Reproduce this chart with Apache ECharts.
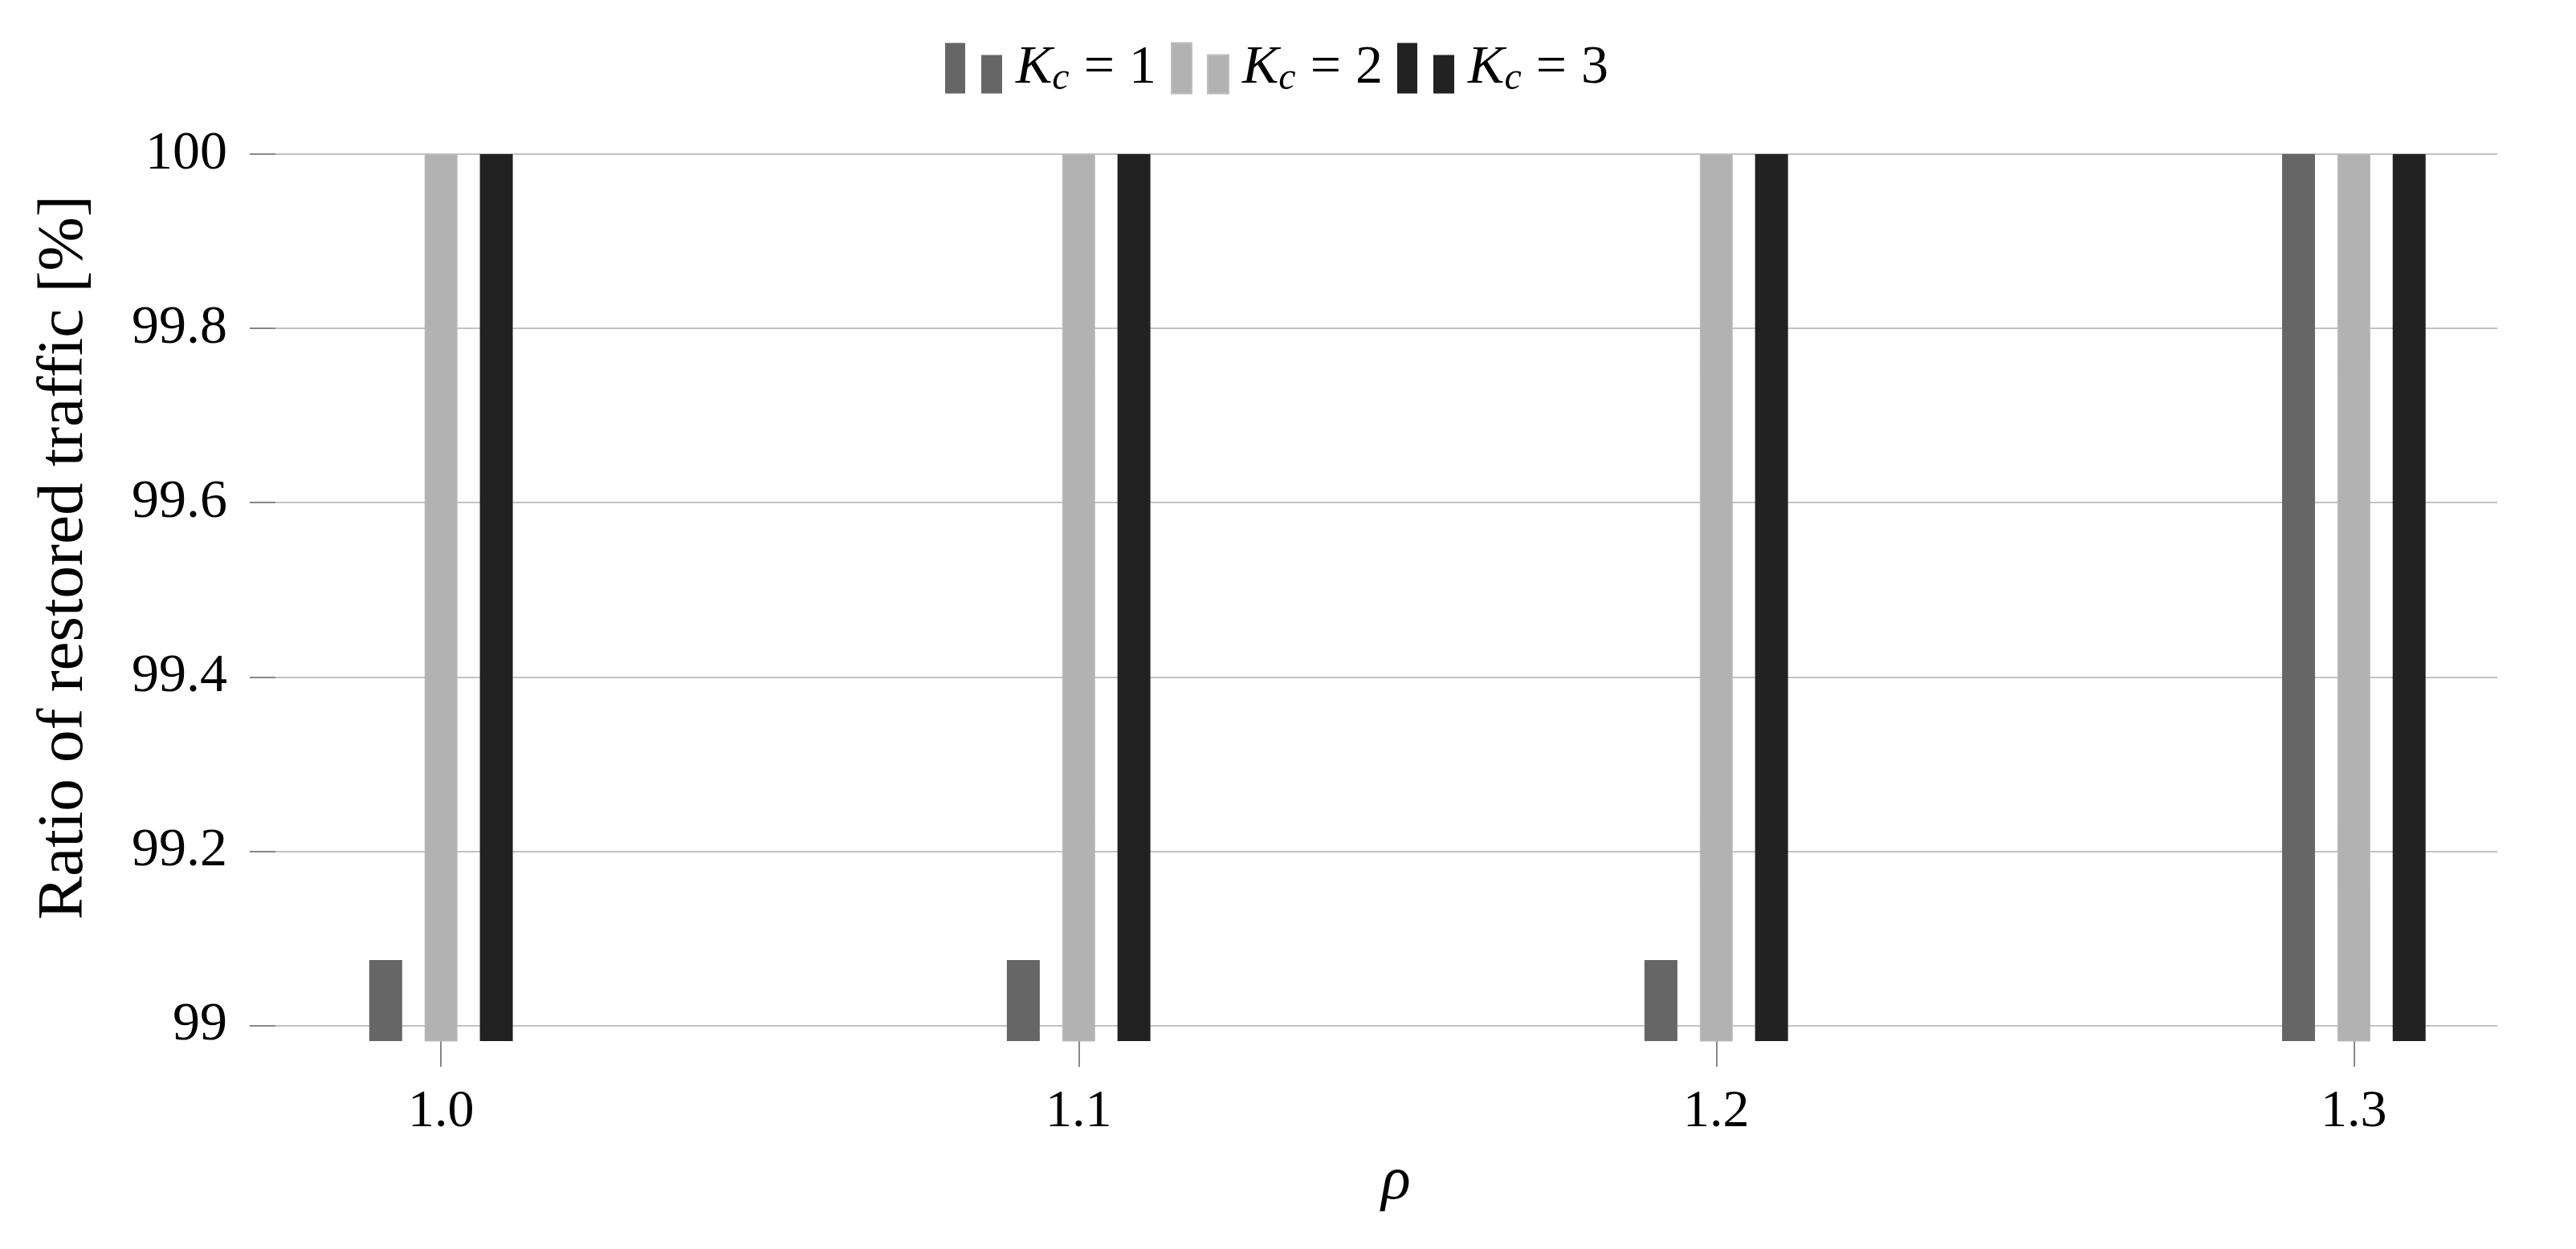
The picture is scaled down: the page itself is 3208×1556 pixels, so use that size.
<!DOCTYPE html>
<html>
<head>
<meta charset="utf-8">
<script src="https://cdn.jsdelivr.net/npm/echarts@6.0.0/dist/echarts.min.js"></script>
<style>
  html, body { margin: 0; padding: 0; background: #fff; }
  #main { width: 3208px; height: 1556px; }
</style>
</head>
<body>
<div id="main"></div>
<script>
// data
var rhoValues = [1.0, 1.1, 1.2, 1.3];
var seriesNames = ['Kc1', 'Kc2', 'Kc3'];
var kc1 = [99.075, 99.075, 99.075, 100];
var kc2 = [100, 100, 100, 100];
var kc3 = [100, 100, 100, 100];
var yTicks = [99, 99.2, 99.4, 99.6, 99.8, 100];
var colors = ['#666666', '#b2b2b2', '#222222'];

var serif = 'Liberation Serif';

function pairs(vals) {
  return rhoValues.map(function (r, i) { return [r, vals[i]]; });
}

function legendLabel(name) {
  var n = name.replace('Kc', '');
  return '{k|K}{s|c}{e|=}{n|' + n + '}';
}

var chart = echarts.init(document.getElementById('main'));

var option = {
  animation: false,
  backgroundColor: '#ffffff',
  color: colors,
  legend: {
    left: 1172,
    top: 46,
    itemWidth: 71,
    itemHeight: 63,
    itemGap: 18,
    icon: 'path://M0,0H25V63H0Z M45,15H71V63H45Z',
    data: seriesNames,
    formatter: legendLabel,
    textStyle: {
      padding: [0, 0, 0, 12],
      rich: {
        k: { fontFamily: serif, fontStyle: 'italic', fontSize: 68, color: '#000', lineHeight: 74 },
        s: { fontFamily: serif, fontStyle: 'italic', fontSize: 48, color: '#000', lineHeight: 48, verticalAlign: 'bottom' },
        e: { fontFamily: serif, fontSize: 68, color: '#000', lineHeight: 74, padding: [0, 18, 0, 18] },
        n: { fontFamily: serif, fontSize: 68, color: '#000', lineHeight: 74 }
      }
    }
  },
  grid: {
    left: 311,
    right: 98,
    top: 192,
    bottom: 259
  },
  xAxis: {
    type: 'value',
    min: 0.97,
    max: 1.3225,
    name: 'ρ',
    nameLocation: 'middle',
    nameGap: 138,
    nameTextStyle: {
      fontFamily: serif,
      fontStyle: 'italic',
      fontSize: 76,
      color: '#000',
      padding: [0, 0, 0, 56]
    },
    axisLine: { show: false },
    axisTick: {
      show: true,
      length: 32,
      customValues: rhoValues,
      lineStyle: { color: '#888888', width: 2 }
    },
    axisLabel: {
      customValues: rhoValues,
      margin: 56,
      fontFamily: serif,
      fontSize: 66,
      color: '#000',
      formatter: function (v) { return v.toFixed(1); }
    },
    splitLine: { show: false }
  },
  yAxis: {
    type: 'value',
    min: 98.982,
    max: 100,
    name: 'Ratio of restored traffic [%]',
    nameLocation: 'middle',
    nameGap: 190,
    nameTextStyle: {
      fontFamily: serif,
      fontSize: 81,
      color: '#000',
      padding: [0, 0, 0, 100]
    },
    axisLine: { show: false },
    axisTick: {
      show: true,
      inside: true,
      length: 32,
      customValues: yTicks,
      lineStyle: { color: '#888888', width: 2 }
    },
    axisLabel: {
      customValues: yTicks,
      margin: 28,
      fontFamily: serif,
      fontSize: 68,
      color: '#000',
      formatter: function (v) { return String(v); }
    },
    splitLine: {
      show: true,
      lineStyle: { color: '#c2c2c2', width: 2 }
    }
  },
  series: [
    {
      name: 'Kc1',
      type: 'bar',
      barWidth: 41,
      barGap: '68%',
      itemStyle: { color: colors[0] },
      data: pairs(kc1)
    },
    {
      name: 'Kc2',
      type: 'bar',
      barWidth: 41,
      barGap: '68%',
      itemStyle: { color: colors[1], borderColor: '#bdbdbd', borderWidth: 1 },
      data: pairs(kc2)
    },
    {
      name: 'Kc3',
      type: 'bar',
      barWidth: 41,
      barGap: '68%',
      itemStyle: { color: colors[2] },
      data: pairs(kc3)
    }
  ]
};

chart.setOption(option);
</script>
</body>
</html>
